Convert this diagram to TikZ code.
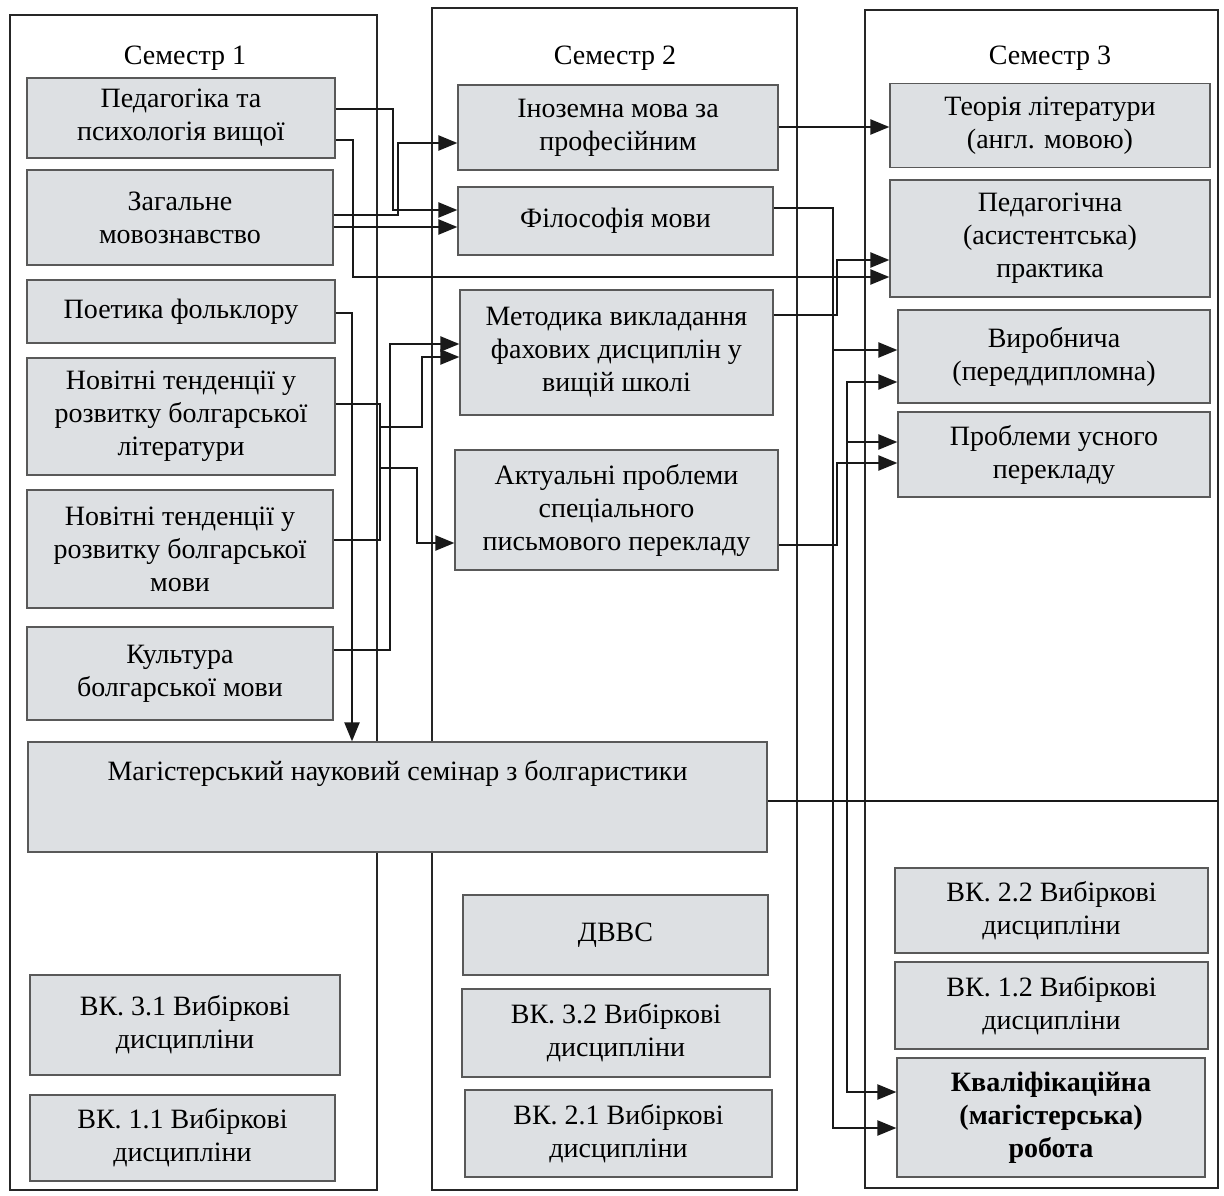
\documentclass[tikz,border=0pt]{standalone}
\usepackage{fontspec}
\setmainfont{Liberation Serif}
\usetikzlibrary{arrows.meta}
\definecolor{boxgray}{RGB}{221,224,227}

\begin{document}
\begin{tikzpicture}[x=1pt, y=-1pt, align=center, font=\fontsize{28}{33}\selectfont,
	subjbox/.style={rectangle,draw=black!65,fill=boxgray,line width=1.2pt,inner sep=2pt},
	colframe/.style={draw=black!85,line width=1.3pt},
	link/.style={draw=black!90,line width=2.2pt},
	conn/.style={link,-{Triangle[length=19pt,width=15pt]}}]
		\useasboundingbox (0,0) rectangle (1224,1196);
		% semester frames
		\draw[colframe] (10,15) rectangle (377,1190);
		\draw[colframe] (432,8) rectangle (797,1190);
		\draw[colframe] (865,10) rectangle (1218,1188);
		\node (sem1) at (185,58) {Семестр 1};
		\node (sem2) at (615,58) {Семестр 2};
		\node (sem3) at (1050,58) {Семестр 3};
		% semester 1
		\node[subjbox,minimum width=308pt,minimum height=80pt] (ped) at (181,118) {Педагогіка та\\психологія вищої};
		\node[subjbox,minimum width=306pt,minimum height=95pt] (zag) at (180,217.5) {Загальне\\мовознавство};
		\node[subjbox,minimum width=308pt,minimum height=63pt] (poet) at (181,311.5) {Поетика фольклору};
		\node[subjbox,minimum width=308pt,minimum height=117pt] (novlit) at (181,416.5) {Новітні тенденції у\\розвитку болгарської\\літератури};
		\node[subjbox,minimum width=306pt,minimum height=118pt] (novmov) at (180,549) {Новітні тенденції у\\розвитку болгарської\\мови};
		\node[subjbox,minimum width=306pt,minimum height=93pt] (kult) at (180,673.5) {Культура\\болгарської мови};
		\node[subjbox,inner sep=0pt,minimum width=739pt,text height=38pt,text depth=72pt] (sem) at (397.5,797) {Магістерський науковий семінар з болгаристики};
		\node[subjbox,minimum width=310pt,minimum height=100pt] (vk31) at (185,1025) {ВК. 3.1 Вибіркові\\дисципліни};
		\node[subjbox,minimum width=305pt,minimum height=86pt] (vk11) at (182.5,1138) {ВК. 1.1 Вибіркові\\дисципліни};
		% semester 2
		\node[subjbox,minimum width=320pt,minimum height=85pt] (inoz) at (618,127.5) {Іноземна мова за\\професійним};
		\node[subjbox,minimum width=315pt,minimum height=68pt] (fil) at (615.5,221) {Філософія мови};
		\node[subjbox,minimum width=313pt,minimum height=125pt] (met) at (616.5,352.5) {Методика викладання\\фахових дисциплін у\\вищій школі};
		\node[subjbox,minimum width=323pt,minimum height=120pt] (akt) at (616.5,510) {Актуальні проблеми\\спеціального\\письмового перекладу};
		\node[subjbox,minimum width=305pt,minimum height=80pt] (dvvs) at (615.5,935) {ДВВС};
		\node[subjbox,minimum width=308pt,minimum height=88pt] (vk32) at (616,1033) {ВК. 3.2 Вибіркові\\дисципліни};
		\node[subjbox,minimum width=307pt,minimum height=87pt] (vk21) at (618.5,1133.5) {ВК. 2.1 Вибіркові\\дисципліни};
		% semester 3
		\node[subjbox,minimum width=320pt,minimum height=84pt] (teor) at (1050,125.5) {Теорія літератури\\(англ. мовою)};
		\node[subjbox,minimum width=320pt,minimum height=117pt] (prakt) at (1050,238.5) {Педагогічна\\(асистентська)\\практика};
		\node[subjbox,minimum width=312pt,minimum height=93pt] (vyr) at (1054,356.5) {Виробнича\\(переддипломна)};
		\node[subjbox,minimum width=312pt,minimum height=85pt] (usn) at (1054,454.5) {Проблеми усного\\перекладу};
		\node[subjbox,minimum width=313pt,minimum height=85pt] (vk22) at (1051.5,910.5) {ВК. 2.2 Вибіркові\\дисципліни};
		\node[subjbox,minimum width=313pt,minimum height=87pt] (vk12) at (1051.5,1005.5) {ВК. 1.2 Вибіркові\\дисципліни};
		\node[subjbox,minimum width=308pt,minimum height=119pt,font=\fontsize{28}{33}\selectfont\bfseries] (kval) at (1051,1117.5) {Кваліфікаційна\\(магістерська)\\робота};
		% junctions
		\coordinate (nbus1) at (380,427);
		\coordinate (nbus2) at (380,468);
		\coordinate (fbus) at (833,350);
		\coordinate (sbus) at (847,801);
		\coordinate (sbus2) at (847,442);
		% connectors
		\draw[conn] (ped.east |- 0,109) -| (393,210) -- (fil.west |- 0,210);
		\draw[conn] (ped.east |- 0,140) -| (353,277) -- (prakt.west |- 0,277);
		\draw[conn] (zag.east |- 0,215) -| (398,143) -- (inoz.west |- 0,143);
		\draw[conn] (zag.east |- 0,227) -- (fil.west |- 0,227);
		\draw[conn] (poet.east |- 0,313) -| (sem.north -| 352,0);
		\draw[link] (novlit.east |- 0,404) -| (380,540) -- (novmov.east |- 0,540);
		\draw[conn] (nbus1) -| (422,357) -- (met.west |- 0,357);
		\draw[conn] (nbus2) -| (417,543) -- (akt.west |- 0,543);
		\draw[conn] (kult.east |- 0,650) -| (390,344) -- (met.west |- 0,344);
		\draw[conn] (inoz.east |- 0,127) -- (teor.west |- 0,127);
		\draw[conn] (fil.east |- 0,208) -| (833,1128) -- (kval.west |- 0,1128);
		\draw[conn] (fbus) -- (vyr.west |- 0,350);
		\draw[conn] (met.east |- 0,315) -| (837,260) -- (prakt.west |- 0,260);
		\draw[conn] (akt.east |- 0,545) -| (837,463) -- (usn.west |- 0,463);
		\draw[link] (sem.east |- 0,801) -- (1218,801);
		\draw[conn] (sbus) -- (847,382) -- (vyr.west |- 0,382);
		\draw[conn] (sbus2) -- (usn.west |- 0,442);
		\draw[conn] (sbus) |- (kval.west |- 0,1092);
	\end{tikzpicture}
\end{document}
